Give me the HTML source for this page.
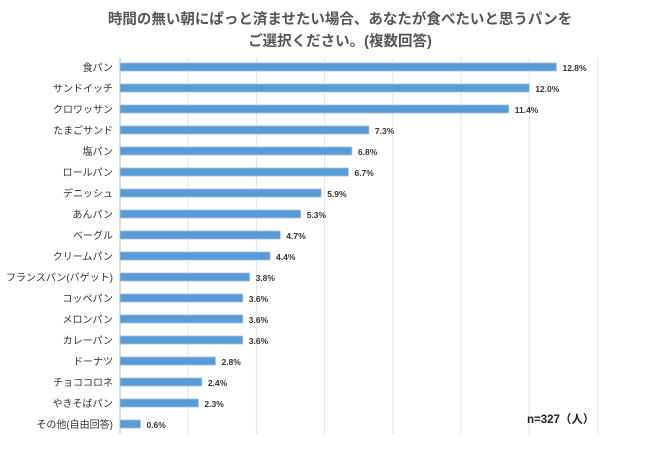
<!DOCTYPE html>
<html><head><meta charset="utf-8"><style>
body{margin:0;background:#fff;}
svg text{font-family:"Liberation Sans","Noto Sans CJK JP",sans-serif;}
</style></head><body>
<svg width="650" height="444">
<text x="340" y="24" text-anchor="middle" font-size="14.5" font-weight="bold" fill="#555">時間の無い朝にぱっと済ませたい場合、あなたが食べたいと思うパンを</text>
<text x="340" y="46" text-anchor="middle" font-size="14.5" font-weight="bold" fill="#555">ご選択ください。(複数回答)</text>
<g id="grid"></g><g id="bars"></g>
<text x="527" y="423" font-size="11.5" font-weight="bold" fill="#222">n=327（人）</text>
</svg>
<script>
const categories=["食パン","サンドイッチ","クロワッサン","たまごサンド","塩パン","ロールパン","デニッシュ","あんパン","ベーグル","クリームパン","フランスパン(バゲット)","コッペパン","メロンパン","カレーパン","ドーナツ","チョココロネ","やきそばパン","その他(自由回答)"];
const values=[12.8,12.0,11.4,7.3,6.8,6.7,5.9,5.3,4.7,4.4,3.8,3.6,3.6,3.6,2.8,2.4,2.3,0.6];
const ticks=[0,2,4,6,8,10,12,14];
const NS="http://www.w3.org/2000/svg";
const x0=120,pxPer=34.1,yTop=67,step=21,gTop=58,gBot=434;
const xs=v=>x0+v*pxPer;
const ys=i=>yTop+i*step;
function mk(t,a,p){const e=document.createElementNS(NS,t);for(const k in a)e.setAttribute(k,a[k]);p.appendChild(e);return e;}
const grid=document.getElementById('grid'),bars=document.getElementById('bars');
ticks.forEach(t=>{const l=mk('line',{x1:xs(t),x2:xs(t),y1:gTop,y2:gBot,stroke:t===0?'#bbb':'#e3e3e3','stroke-width':1},grid);

});
categories.forEach((c,i)=>{const y=ys(i);
const lab=mk('text',{x:113,y:y+4,'text-anchor':'end','font-size':10,fill:'#333'},bars);lab.textContent=c;


const r=mk('rect',{x:x0,y:y-4,width:values[i]*pxPer,height:8,fill:'#5b9bd5',stroke:'#9dc3e6','stroke-width':0.8},bars);


const v=mk('text',{x:xs(values[i])+6,y:y+4,'font-size':8.5,'font-weight':'bold',fill:'#333'},bars);v.textContent=values[i].toFixed(1)+'%';

});
</script>
</body></html>
